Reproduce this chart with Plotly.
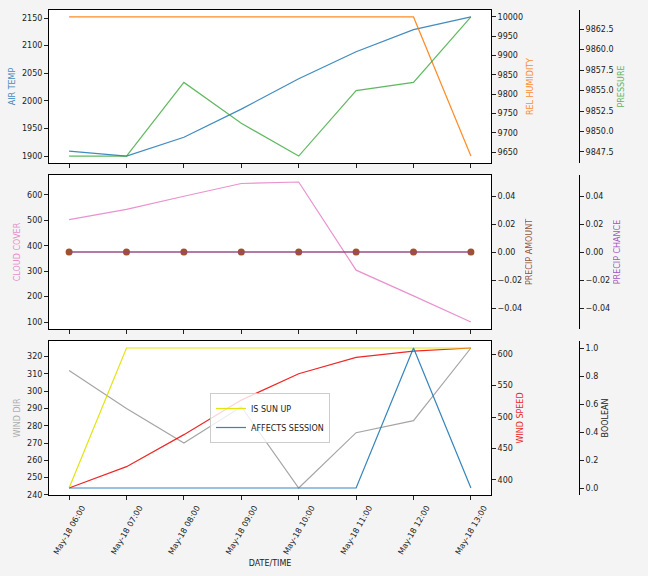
import plotly.graph_objects as go

# ---------------- data ----------------
times = ["2023-05-18 06:00", "2023-05-18 07:00", "2023-05-18 08:00", "2023-05-18 09:00",
         "2023-05-18 10:00", "2023-05-18 11:00", "2023-05-18 12:00", "2023-05-18 13:00"]
air_temp = [1909, 1900, 1934, 1985, 2040, 2089, 2129, 2152]
rel_humidity = [10000, 10000, 10000, 9999, 10000, 9999, 10000, 9640]
pressure = [9847, 9847, 9856, 9851, 9847, 9855, 9856, 9864]
cloud_cover = [503, 543, 595, 645, 651, 304, 203, 100]
precip_amount = [0, 0, 0, 0, 0, 0, 0, 0]
precip_chance = [0, 0, 0, 0, 0, 0, 0, 0]
wind_dir = [312, 290, 270, 291, 244, 276, 283, 325]
wind_speed = [387, 421, 472, 527, 569, 595, 605, 610]
is_sun_up = [0, 1, 1, 1, 1, 1, 1, 1]
affects_session = [0, 0, 0, 0, 0, 0, 1, 0]

W, H = 648, 576
FONT = "DejaVu Sans"
FS = 8


def pad(vals, m=0.05):
    lo, hi = min(vals), max(vals)
    if hi == lo:
        e = 0.05 if lo == 0 else abs(lo) * 0.05
        lo, hi = lo - e, hi + e
    d = (hi - lo) * m
    return [lo - d, hi + d]


x_l, x_r = 49 / W, 491 / W
third_pos = 579 / W
panels = [(10, 163), (175, 329), (341, 495)]
doms = [[1 - b / H, 1 - t / H] for t, b in panels]

fig = go.Figure()

C_BLUE = "rgba(31,119,180,0.85)"
C_ORANGE = "rgba(255,127,14,0.9)"
C_GREEN = "rgba(44,160,44,0.75)"
C_PINK = "rgba(227,119,194,0.8)"
C_BROWN = "rgba(140,70,30,0.9)"
C_PURPLE = "rgba(148,60,180,0.85)"
C_GRAY = "rgba(127,127,127,0.7)"
C_RED = "rgba(235,0,0,0.85)"
C_YELLOW = "rgba(225,225,0,0.95)"

LW = 1.2


def line(y, xa, ya, color, name, legend=False):
    fig.add_trace(go.Scatter(x=times, y=y, xaxis=xa, yaxis=ya, mode="lines", name=name,
                             line=dict(color=color, width=LW), showlegend=legend))


# panel 1
line(air_temp, "x", "y", C_BLUE, "AIR TEMP")
line(rel_humidity, "x", "y2", C_ORANGE, "REL HUMIDITY")
line(pressure, "x", "y3", C_GREEN, "PRESSURE")
# panel 2
line(cloud_cover, "x2", "y4", C_PINK, "CLOUD COVER")
fig.add_trace(go.Scatter(x=times, y=precip_amount, xaxis="x2", yaxis="y5", mode="lines+markers",
                         name="PRECIP AMOUNT", line=dict(color=C_BROWN, width=LW),
                         marker=dict(color="rgb(160,82,45)", size=7), showlegend=False))
line(precip_chance, "x2", "y6", C_PURPLE, "PRECIP CHANCE")
# panel 3
line(wind_dir, "x3", "y7", C_GRAY, "WIND DIR")
line(wind_speed, "x3", "y8", C_RED, "WIND SPEED")
line(is_sun_up, "x3", "y9", C_YELLOW, "IS SUN UP", legend=True)
line(affects_session, "x3", "y9", "rgba(31,119,180,0.9)", "AFFECTS SESSION", legend=True)

tickfont = dict(family=FONT, size=FS, color="#222")
common = dict(showgrid=False, zeroline=False, ticks="outside", ticklen=4, tickwidth=1,
              tickcolor="#222", tickfont=tickfont, linecolor="black", linewidth=1,
              showline=True, automargin=False)

xrange = ["2023-05-18 05:39", "2023-05-18 13:21"]
layout = dict(width=W, height=H, paper_bgcolor="#f4f4f4", plot_bgcolor="white",
              margin=dict(l=0, r=0, t=0, b=0, autoexpand=False),
              font=dict(family=FONT, size=FS, color="#222"))

for i, (xa, ya) in enumerate([("xaxis", "y"), ("xaxis2", "y4"), ("xaxis3", "y7")]):
    d = dict(common, domain=[x_l, x_r], anchor=ya, range=xrange, mirror=True,
             type="date", dtick=3600000, tick0="2023-05-18 06:00",
             tickformat="%b-%d %H:%M")
    if i < 2:
        d["showticklabels"] = False
    else:
        d.update(tickangle=-60, ticklabelshift=13,
                 title=dict(text="DATE/TIME", font=dict(family=FONT, size=FS, color="#222"),
                            standoff=5))
    layout[xa] = d


def yax(title, color, rng, dtick, fmt, side, xanchor, dom=None, overlay=None, pos=None, mirror=False, standoff=5):
    d = dict(common, title=dict(text=title, font=dict(family=FONT, size=FS, color=color),
                                standoff=standoff),
             range=rng, dtick=dtick, tickformat=fmt, side=side)
    if dom is not None:
        d["domain"] = dom
    if overlay:
        d["overlaying"] = overlay
    if pos is not None:
        d["anchor"] = "free"
        d["position"] = pos
    else:
        d["anchor"] = xanchor
    if mirror:
        d["mirror"] = True
    return d


layout["yaxis"] = yax("AIR TEMP", C_BLUE, pad(air_temp), 50, "d", "left", "x", dom=doms[0], mirror=True)
layout["yaxis2"] = yax("REL HUMIDITY", C_ORANGE, pad(rel_humidity), 50, "d", "right", "x", overlay="y")
layout["yaxis3"] = yax("PRESSURE", C_GREEN, pad(pressure), 2.5, ".1f", "right", "x", overlay="y", pos=third_pos)

layout["yaxis4"] = yax("CLOUD COVER", C_PINK, pad(cloud_cover), 100, "d", "left", "x2", dom=doms[1], mirror=True)
layout["yaxis5"] = yax("PRECIP AMOUNT", C_BROWN, pad(precip_amount), 0.02, ".2f", "right", "x2", overlay="y4")
layout["yaxis6"] = yax("PRECIP CHANCE", C_PURPLE, pad(precip_chance), 0.02, ".2f", "right", "x2", overlay="y4", pos=third_pos)

layout["yaxis7"] = yax("WIND DIR", "rgba(127,127,127,0.6)", pad(wind_dir), 10, "d", "left", "x3", dom=doms[2], mirror=True)
layout["yaxis8"] = yax("WIND SPEED", C_RED, pad(wind_speed), 50, "d", "right", "x3", overlay="y7")
layout["yaxis9"] = yax("BOOLEAN", "#222", pad([0, 1]), 0.2, ".1f", "right", "x3", overlay="y7", pos=third_pos)

layout["legend"] = dict(x=(x_l + x_r) / 2, y=(doms[2][0] + doms[2][1]) / 2,
                        xanchor="center", yanchor="middle",
                        bgcolor="rgba(255,255,255,0.8)", bordercolor="#cccccc", borderwidth=1,
                        font=dict(family=FONT, size=FS, color="#222"), itemwidth=30,
                        tracegroupgap=0)

fig.update_layout(**layout)
fig.write_html("out.html", config={"displayModeBar": False},
               post_script="document.body.style.margin='0';document.body.style.background='#f4f4f4';")
